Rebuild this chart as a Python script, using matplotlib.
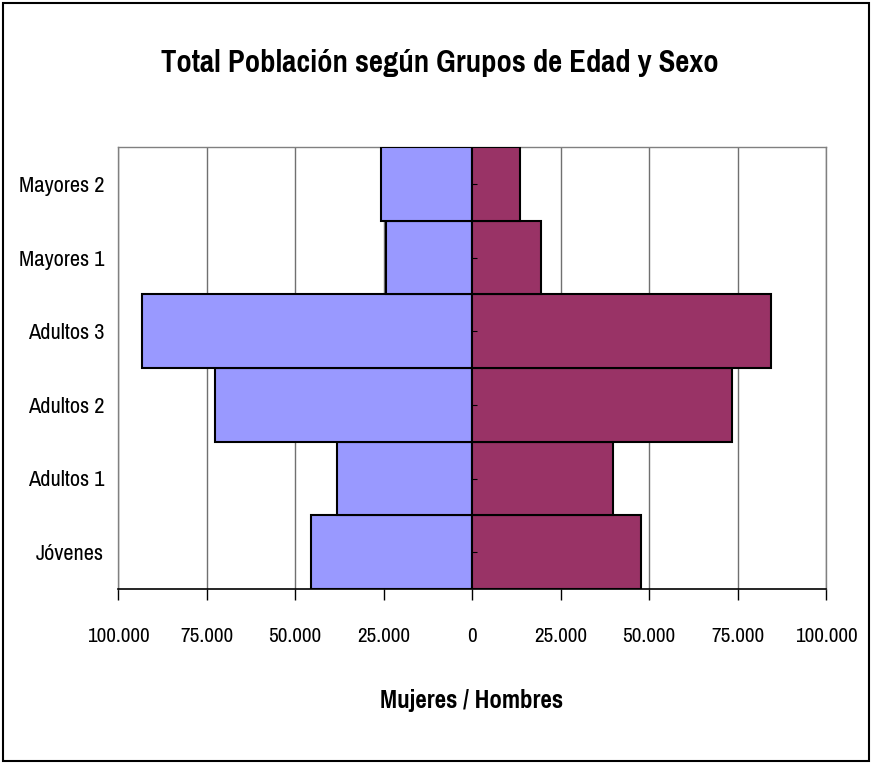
import matplotlib
matplotlib.use("Agg")
import matplotlib.pyplot as plt
import numpy as np
from matplotlib.patches import Rectangle
from matplotlib.ticker import FuncFormatter

categories = ["Jóvenes", "Adultos 1", "Adultos 2", "Adultos 3", "Mayores 1", "Mayores 2"]
mujeres = [45500, 38100, 72600, 93200, 24300, 25700]
hombres = [47700, 39800, 73400, 84500, 19500, 13600]
xticks = [-100000, -75000, -50000, -25000, 0, 25000, 50000, 75000, 100000]

plt.rcParams['font.family'] = ['Pragati Narrow', 'Archivo Narrow', 'DejaVu Sans']

fig = plt.figure(figsize=(8.72, 7.64), dpi=100)
ax = fig.add_axes([118/872, 1-589/764, (826-118)/872, (589-147)/764])

y = np.arange(len(categories))
ax.barh(y, [-v for v in mujeres], height=1.0, color='#9999FF', edgecolor='black', linewidth=1.5, zorder=3)
ax.barh(y, hombres, height=1.0, color='#993366', edgecolor='black', linewidth=1.5, zorder=3)

ax.set_xlim(-100000, 100000)
ax.set_ylim(-0.5, len(categories)-0.5)
ax.set_xticks(xticks)
ax.xaxis.set_major_formatter(FuncFormatter(lambda v, p: f"{abs(int(v)):,}".replace(",", ".")))
ax.tick_params(axis='x', direction='out', length=8, width=1, pad=19, labelsize=16.5, color='black')
ax.set_yticks(y)
ax.set_yticklabels(categories)
ax.tick_params(axis='y', length=0, pad=10, labelsize=17.5)
ax.grid(axis='x', color='#707070', linewidth=1, zorder=0)
ax.set_axisbelow(True)
for s in ['left', 'top', 'right']:
    ax.spines[s].set_color('#808080')
    ax.spines[s].set_linewidth(1)
ax.spines['bottom'].set_color('black')
ax.spines['bottom'].set_linewidth(1.2)

# small category ticks on the zero axis
ax.hlines(y, 0, 1500, color='black', linewidth=0.8, zorder=4)

ax.set_xlabel("Mujeres / Hombres", fontsize=19.5, fontweight='bold', labelpad=31)
fig.text(440/872, 1-63/764, "Total Población según Grupos de Edad y Sexo", ha='center', va='center',
         fontsize=24, fontweight='bold')

fig.patches.append(Rectangle((3/872, 3/764), 866/872, 758/764, transform=fig.transFigure,
                             fill=False, edgecolor='black', linewidth=1.5))

fig.savefig("out.png", dpi=100)
